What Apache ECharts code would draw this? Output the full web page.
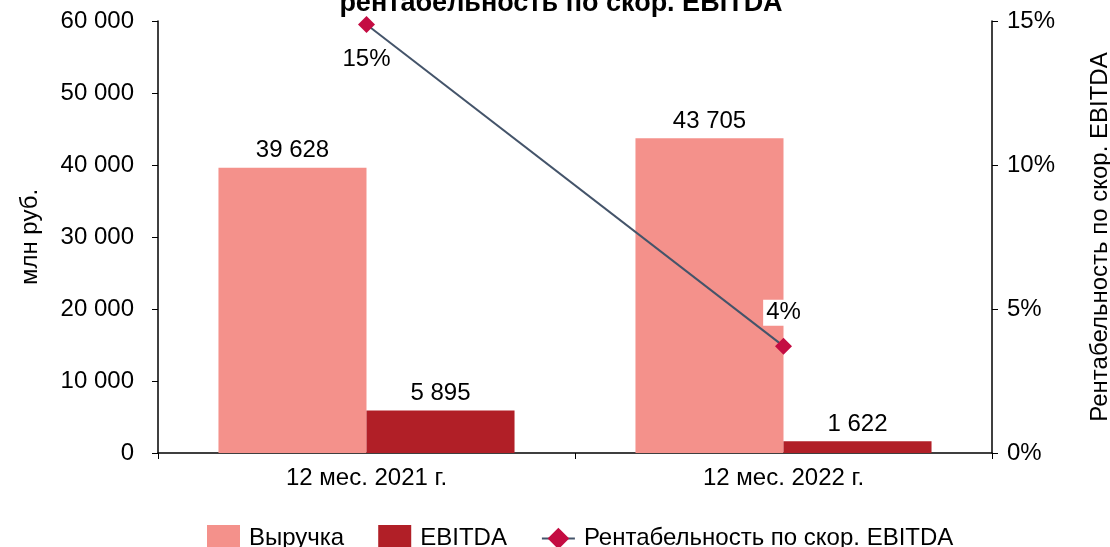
<!DOCTYPE html>
<html>
<head>
<meta charset="utf-8">
<script src="https://cdn.jsdelivr.net/npm/echarts@6/dist/echarts.min.js"></script>
<style>
  html, body { margin: 0; padding: 0; background: #fff; }
  #chart { width: 1110px; height: 547px; }
</style>
</head>
<body>
<div id="chart"></div>
<script>
// данные с графика
var categories = ["12 мес. 2021 г.", "12 мес. 2022 г."];
var revenue = [39628, 43705];
var ebitda = [5895, 1622];
var margin = [14.88, 3.71]; // рентабельность, %

function fmtNum(v) {
  return String(v).replace(/\B(?=(\d{3})+(?!\d))/g, " ");
}

var chartDom = document.getElementById("chart");
var myChart = echarts.init(chartDom);
var font = "'Liberation Sans', Arial, sans-serif";
var fs = 24;

var option = {
  animation: false,
  textStyle: { fontFamily: font, color: "#000" },
  graphic: [
    {
      type: "text",
      x: 561,
      y: 17,
      style: {
        text: "рентабельность по скор. EBITDA",
        font: "bold 27px " + font,
        fill: "#000",
        textAlign: "center",
        textVerticalAlign: "bottom"
      }
    }
  ],
  grid: { left: 158, right: 118, top: 21, bottom: 94, outerBoundsMode: "none" },
  legend: {
    top: 520,
    left: 202,
    itemWidth: 33,
    itemHeight: 27,
    itemGap: 34,
    textStyle: { fontSize: fs, fontFamily: font, color: "#000", padding: [0, 0, 0, 4] },
    data: [
      { name: "Выручка", icon: "rect" },
      { name: "EBITDA", icon: "rect" },
      "Рентабельность по скор. EBITDA"
    ]
  },
  xAxis: {
    type: "category",
    data: categories,
    axisLine: { lineStyle: { color: "#000", width: 1.5 } },
    axisTick: { show: true, length: 6, lineStyle: { color: "#000" } },
    axisLabel: { fontSize: fs, color: "#000", margin: 13 }
  },
  yAxis: [
    {
      type: "value",
      min: 0,
      max: 60000,
      interval: 10000,
      name: "млн руб.",
      nameLocation: "middle",
      nameGap: 116,
      nameTextStyle: { fontSize: fs, color: "#000" },
      splitLine: { show: false },
      axisLine: { show: true, lineStyle: { color: "#000", width: 1.5 } },
      axisTick: { show: true, length: 6, lineStyle: { color: "#000" } },
      axisLabel: {
        fontSize: fs,
        color: "#000",
        margin: 24,
        formatter: function (v) { return fmtNum(v); }
      }
    },
    {
      type: "value",
      min: 0,
      max: 15,
      interval: 5,
      position: "right",
      name: "Рентабельность по скор. EBITDA",
      nameLocation: "middle",
      nameGap: 96,
      nameTextStyle: { fontSize: fs, color: "#000" },
      splitLine: { show: false },
      axisLine: { show: true, lineStyle: { color: "#000", width: 1.5 } },
      axisTick: { show: true, length: 6, lineStyle: { color: "#000" } },
      axisLabel: { fontSize: fs, color: "#000", margin: 15, formatter: "{value}%" }
    }
  ],
  series: [
    {
      name: "Выручка",
      type: "bar",
      data: revenue,
      barWidth: "35.5%",
      barGap: "0%",
      itemStyle: { color: "#F4918B" },
      label: {
        show: true,
        position: "top",
        distance: 5,
        fontSize: fs,
        color: "#000",
        formatter: function (p) { return fmtNum(p.value); }
      }
    },
    {
      name: "EBITDA",
      type: "bar",
      data: ebitda,
      barWidth: "35.5%",
      itemStyle: { color: "#B11F27" },
      label: {
        show: true,
        position: "top",
        distance: 5,
        fontSize: fs,
        color: "#000",
        formatter: function (p) { return fmtNum(p.value); }
      }
    },
    {
      name: "Рентабельность по скор. EBITDA",
      type: "line",
      yAxisIndex: 1,
      data: [
        { value: margin[0], label: { position: "bottom", distance: 14 } },
        {
          value: margin[1],
          label: { position: "top", distance: 12, backgroundColor: "#fff", padding: [1, 3] }
        }
      ],
      symbol: "diamond",
      symbolSize: 17,
      lineStyle: { color: "#44546A", width: 2 },
      itemStyle: { color: "#C40C42" },
      label: {
        show: true,
        fontSize: fs,
        color: "#000",
        formatter: function (p) { return Math.round(p.value) + "%"; }
      },
      z: 5
    }
  ]
};

option && myChart.setOption(option);
</script>
</body>
</html>
